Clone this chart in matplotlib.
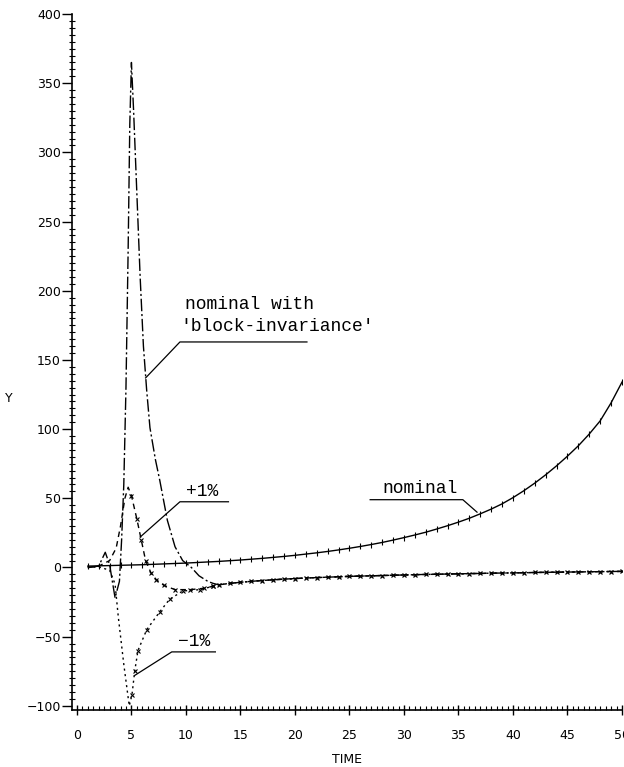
import numpy as np
import matplotlib
matplotlib.use("Agg")
import matplotlib.pyplot as plt
from matplotlib.ticker import MultipleLocator

# nominal response, one value per time unit
t_nom = list(range(1, 51))
y_nom = [1.0, 1.2, 1.4, 1.6, 1.8, 2.0, 2.3, 2.6, 2.9, 3.2,
         3.6, 4.0, 4.4, 4.9, 5.4, 6.0, 6.6, 7.3, 8.0, 8.8,
         9.7, 10.6, 11.6, 12.7, 13.9, 15.2, 16.6, 18.1, 19.8, 21.6,
         23.5, 25.5, 27.8, 30.2, 32.8, 35.6, 38.8, 42.2, 46.0, 50.5,
         55.5, 61.0, 67.0, 73.5, 80.5, 88.0, 96.5, 106.0, 119.0, 134.0]

# common tail shared by the three perturbed runs
t_tail = list(range(13, 51))
y_tail = [-12.5, -11.5, -10.7, -10.0, -9.4, -8.9, -8.4, -8.0, -7.6, -7.3,
          -7.0, -6.7, -6.4, -6.2, -6.0, -5.8, -5.6, -5.4, -5.2, -5.0,
          -4.9, -4.7, -4.6, -4.4, -4.3, -4.1, -4.0, -3.9, -3.8, -3.6,
          -3.5, -3.4, -3.3, -3.2, -3.1, -3.0, -2.9, -2.8]

# nominal with 'block-invariance'
t_blk = [1.0, 2.0, 2.6, 3.0, 3.5, 3.9, 4.1, 4.3, 4.5, 4.7, 4.85, 5.0,
         5.2, 5.5, 5.8, 6.1, 6.4, 6.7, 7.2, 7.6, 8.3, 9.0, 9.7, 10.5,
         11.2, 12.0, 12.5]
y_blk = [0.0, 1.0, 11.0, 2.0, -22.0, -10.0, 20.0, 60.0, 130.0, 230.0, 320.0, 365.0,
         330.0, 270.0, 210.0, 160.0, 128.0, 101.0, 78.0, 63.0, 34.0, 15.0, 5.0, 0.0,
         -6.0, -10.0, -11.5]

# +1 %
t_pos = [1.0, 2.0, 3.0, 3.6, 4.0, 4.4, 4.7, 5.0, 5.5, 5.9, 6.3, 6.8,
         7.3, 8.0, 9.0, 10.4, 11.7, 12.5]
y_pos = [0.0, 1.0, 5.0, 14.0, 30.0, 50.0, 58.0, 52.0, 35.0, 20.0, 5.0, -4.0,
         -9.0, -13.0, -16.0, -16.0, -15.0, -13.5]

# -1 %
t_neg = [1.0, 2.0, 3.0, 3.5, 3.8, 4.3, 4.8, 5.05, 5.3, 5.6, 6.4, 7.6,
         8.5, 9.7, 11.3, 12.5]
y_neg = [0.0, 0.5, -2.0, -12.0, -36.0, -70.0, -100.0, -92.0, -75.0, -60.0, -45.0, -32.0,
         -23.0, -17.0, -16.0, -13.5]

fig = plt.figure(figsize=(6.24, 7.67), dpi=100)
ax = fig.add_axes([0.1154, 0.0743, 0.8814, 0.9074])

lw = 1.0
ax.plot(t_nom, y_nom, color="black", lw=lw, marker="|", ms=5, mew=0.8)
ax.plot(t_blk + t_tail, y_blk + y_tail, color="black", lw=lw,
        linestyle=(0, (9, 2, 1.5, 2)))
ax.plot(t_pos + t_tail, y_pos + y_tail, color="black", lw=lw,
        linestyle=(0, (4, 3)))
ax.plot(t_neg + t_tail, y_neg + y_tail, color="black", lw=lw,
        linestyle=(0, (1.5, 2.5)))
ax.plot(t_tail, y_tail, color="black", lw=0, marker="x", ms=3.5, mew=0.9)
ax.plot(t_pos[7:], y_pos[7:], color="black", lw=0, marker="x", ms=3, mew=0.8)
ax.plot(t_neg[7:], y_neg[7:], color="black", lw=0, marker="x", ms=3, mew=0.8)

ax.set_xlim(-0.45, 50)
ax.set_ylim(-103, 400)

# curve labels with leader lines
mono = "Liberation Mono"
ax.text(9.9, 187, "nominal with", family=mono, fontsize=13)
ax.text(9.5, 171, "'block-invariance'", family=mono, fontsize=13)
ax.plot([6.3, 9.45, 21.1], [137, 163, 163], color="black", lw=0.9)

ax.text(10.0, 52, "+1%", family=mono, fontsize=13)
ax.plot([5.8, 9.45, 13.9], [22, 47.5, 47.5], color="black", lw=0.9)

ax.text(9.3, -57, "\u22121%", family=mono, fontsize=13)
ax.plot([5.3, 8.7, 12.7], [-78, -61, -61], color="black", lw=0.9)

ax.text(28.0, 54, "nominal", family=mono, fontsize=13)
ax.plot([26.9, 35.4, 36.7], [49, 49, 40], color="black", lw=0.9)

# plotter-like axes
for s in ["top", "right"]:
    ax.spines[s].set_visible(False)
ax.spines["left"].set_linewidth(1.2)
ax.spines["bottom"].set_linewidth(1.2)

ax.xaxis.set_major_locator(MultipleLocator(5))
ax.xaxis.set_minor_locator(MultipleLocator(0.5))
ax.yaxis.set_major_locator(MultipleLocator(50))
ax.yaxis.set_minor_locator(MultipleLocator(5))
ax.tick_params(axis="y", which="major", direction="out", length=7, width=1, pad=1, labelsize=9)
ax.tick_params(axis="y", which="minor", direction="inout", length=4, width=0.8)
ax.tick_params(axis="x", which="major", direction="inout", length=7, width=1, pad=10, labelsize=9)
ax.tick_params(axis="x", which="minor", direction="in", length=3, width=0.8)

ax.set_xlabel("TIME", fontsize=9, labelpad=8)
ax.set_ylabel("Y", fontsize=9, rotation=0)
ax.yaxis.set_label_coords(-0.115, 0.438)

fig.savefig("out.png", dpi=100, facecolor="white")
